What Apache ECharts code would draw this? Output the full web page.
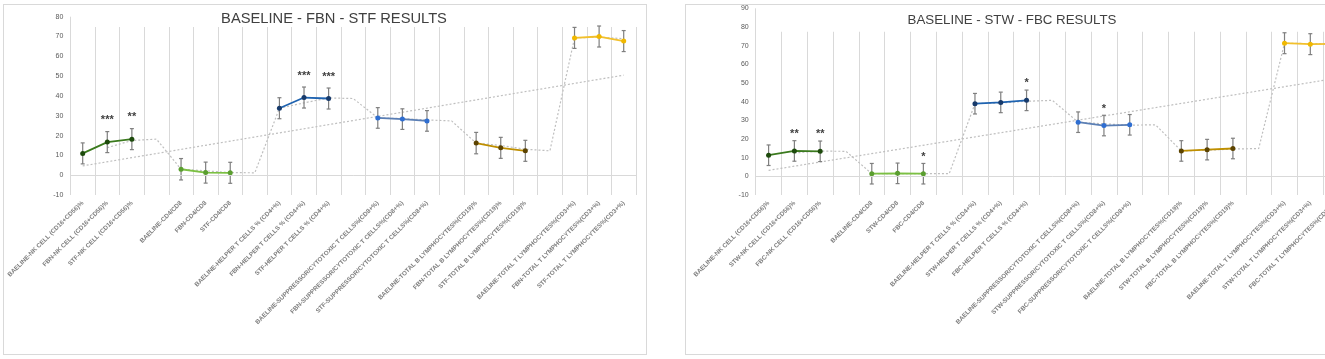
<!DOCTYPE html>
<html>
<head>
<meta charset="utf-8">
<script src="https://cdn.jsdelivr.net/npm/echarts@6/dist/echarts.min.js"></script>
<style>
  html, body { margin: 0; padding: 0; background: #fff; width: 1325px; height: 359px; overflow: hidden; position: relative; }
  .frame { position: absolute; border: 1.5px solid #d9d9d9; box-sizing: border-box; }
  .chart { position: absolute; top: 0; height: 359px; }
</style>
</head>
<body>
<div class="frame" style="left:3px;top:4px;width:644px;height:351px;"></div>
<div class="frame" style="left:685px;top:4px;width:700px;height:351px;"></div>
<div id="chartLeft" class="chart" style="left:0;width:660px;"></div>
<div id="chartRight" class="chart" style="left:660px;width:700px;"></div>
<script>
// categories (gapN = empty slot between groups)
const catsLeft = [
  'BAELINE-NK CELL (CD16+CD56)%', 'FBN-NK CELL (CD16+CD56)%', 'STF-NK CELL (CD16+CD56)%', 'gap1',
  'BAELINE-CD4/CD8', 'FBN-CD4/CD8', 'STF-CD4/CD8', 'gap2',
  'BAELINE-HELPER T CELLS % (CD4+%)', 'FBN-HELPER T CELLS % (CD4+%)', 'STF-HELPER T CELLS % (CD4+%)', 'gap3',
  'BAELINE-SUPPRESSOR/CYTOTOXIC T CELLS%(CD8+%)', 'FBN-SUPPRESSOR/CYTOTOXIC T CELLS%(CD8+%)', 'STF-SUPPRESSOR/CYTOTOXIC T CELLS%(CD8+%)', 'gap4',
  'BAELINE-TOTAL B LYMPHOCYTES%(CD19)%', 'FBN-TOTAL B LYMPHOCYTES%(CD19)%', 'STF-TOTAL B LYMPHOCYTES%(CD19)%', 'gap5',
  'BAELINE-TOTAL T LYMPHOCYTES%(CD3+%)', 'FBN-TOTAL T LYMPHOCYTES%(CD3+%)', 'STF-TOTAL T LYMPHOCYTES%(CD3+%)'
];
const catsRight = [
  'BAELINE-NK CELL (CD16+CD56)%', 'STW-NK CELL (CD16+CD56)%', 'FBC-NK CELL (CD16+CD56)%', 'gap1',
  'BAELINE-CD4/CD8', 'STW-CD4/CD8', 'FBC-CD4/CD8', 'gap2',
  'BAELINE-HELPER T CELLS % (CD4+%)', 'STW-HELPER T CELLS % (CD4+%)', 'FBC-HELPER T CELLS % (CD4+%)', 'gap3',
  'BAELINE-SUPPRESSOR/CYTOTOXIC T CELLS%(CD8+%)', 'STW-SUPPRESSOR/CYTOTOXIC T CELLS%(CD8+%)', 'FBC-SUPPRESSOR/CYTOTOXIC T CELLS%(CD8+%)', 'gap4',
  'BAELINE-TOTAL B LYMPHOCYTES%(CD19)%', 'STW-TOTAL B LYMPHOCYTES%(CD19)%', 'FBC-TOTAL B LYMPHOCYTES%(CD19)%', 'gap5',
  'BAELINE-TOTAL T LYMPHOCYTES%(CD3+%)', 'STW-TOTAL T LYMPHOCYTES%(CD3+%)', 'FBC-TOTAL T LYMPHOCYTES%(CD3+%)'
];

// left panel: BASELINE - FBN - STF
const valuesLeft = [11.0, 16.7, 18.2, null, 3.0, 1.3, 1.2, null, 33.8, 39.2, 38.7, null,
  28.9, 28.3, 27.4, null, 16.2, 13.8, 12.3, null, 69.3, 70.0, 67.7];
const errLeft = [5.3, 5.3, 5.3, null, 5.4, 5.3, 5.3, null, 5.3, 5.3, 5.3, null,
  5.2, 5.2, 5.2, null, 5.4, 5.3, 5.3, null, 5.3, 5.3, 5.3];
const starsLeft = ['', '***', '**', '', '', '', '', '', '', '***', '***', '',
  '', '', '', '', '', '', '', '', '', '', ''];
const movAvgLeft = [null, 13.9, 17.5, 18.2, 3.0, 2.2, 1.3, 1.2, 33.8, 36.5, 39.0, 38.7,
  28.9, 28.6, 27.9, 27.4, 16.2, 15.0, 13.1, 12.3, 69.3, 69.7, 68.9];
const trendLeft = [4.7, 50.5];

// right panel: BASELINE - STW - FBC
const valuesRight = [11.3, 13.6, 13.4, null, 1.4, 1.6, 1.4, null, 38.9, 39.6, 40.7, null,
  29.0, 27.2, 27.6, null, 13.6, 14.3, 14.9, null, 71.3, 70.8, 70.9];
const errRight = [5.5, 5.5, 5.5, null, 5.5, 5.5, 5.5, null, 5.5, 5.5, 5.5, null,
  5.5, 5.5, 5.5, null, 5.5, 5.5, 5.5, null, 5.6, 5.6, 5.6];
const starsRight = ['', '**', '**', '', '', '', '*', '', '', '', '*', '',
  '', '*', '', '', '', '', '', '', '', '', ''];
const movAvgRight = [null, 12.5, 13.5, 13.4, 1.4, 1.5, 1.5, 1.4, 38.9, 39.3, 40.2, 40.7,
  29.0, 28.1, 27.4, 27.6, 13.6, 14.0, 14.6, 14.9, 71.3, 71.1, 70.9];
const trendRight = [3.2, 52.5];

// group colours: [line, marker]
const groupColors = [
  ['#3b7a1e', '#1d4a0c'],
  ['#7cc043', '#5a9e2f'],
  ['#1f63b0', '#173a6b'],
  ['#5b7fb5', '#2f6ed1'],
  ['#bf8f00', '#5c4300'],
  ['#f2c02c', '#f0b800']
];

function buildOption(cfg) {
  const n = cfg.cats.length;
  const series = [];

  // linear trendline
  const trendData = cfg.cats.map(() => null);
  trendData[0] = cfg.trend[0];
  trendData[n - 1] = cfg.trend[1];
  series.push({
    type: 'line', data: trendData, connectNulls: true, symbol: 'none', z: 2,
    lineStyle: { color: '#bfbfbf', width: 1.2, type: [2, 2] },
    markLine: {
      silent: true, symbol: 'none', label: { show: false },
      lineStyle: { color: '#d9d9d9', type: 'solid', width: 1 },
      data: [{ yAxis: 0 }]
    }
  });
  // moving average
  series.push({
    type: 'line', data: cfg.movAvg, symbol: 'none', z: 2,
    lineStyle: { color: '#bfbfbf', width: 1.2, type: [2, 2] }
  });

  // error bars
  series.push({
    type: 'custom', z: 3,
    renderItem: function (params, api) {
      const x = api.value(0), v = api.value(1), e = api.value(2);
      const top = api.coord([x, v + e]);
      const bot = api.coord([x, v - e]);
      const h = 2;
      const st = { stroke: '#7f7f7f', lineWidth: 1.2 };
      return {
        type: 'group', children: [
          { type: 'line', shape: { x1: top[0], y1: top[1], x2: bot[0], y2: bot[1] }, style: st },
          { type: 'line', shape: { x1: top[0] - h, y1: top[1], x2: top[0] + h, y2: top[1] }, style: st },
          { type: 'line', shape: { x1: bot[0] - h, y1: bot[1], x2: bot[0] + h, y2: bot[1] }, style: st }
        ]
      };
    },
    encode: { x: 0, y: 1 },
    data: cfg.values.map((v, i) => v == null ? null : [i, v, cfg.err[i]]).filter(Boolean)
  });

  // one line per group of three
  groupColors.forEach((c, g) => {
    const start = g * 4;
    series.push({
      type: 'line', z: 4,
      data: cfg.values.map((v, i) => (i >= start && i < start + 3) ? v : null),
      symbol: 'circle', symbolSize: 5,
      lineStyle: { color: c[0], width: 1.8 },
      itemStyle: { color: c[1], borderColor: c[1], borderWidth: 0 },
      label: {
        show: true, position: 'top', distance: cfg.starDist,
        color: '#404040', fontSize: 11, fontWeight: 'bold', fontFamily: 'Liberation Sans',
        formatter: p => cfg.stars[p.dataIndex] || ''
      }
    });
  });

  const g = cfg.grid;
  return {
    animation: false,
    grid: g,
    graphic: [{
      // white band hiding the top of the vertical gridlines (title area)
      type: 'rect', z: 1, silent: true,
      shape: { x: g.left + 1, y: g.top - 1, width: cfg.width - g.left - g.right + 2, height: cfg.gridStart - g.top + 1 },
      style: { fill: '#ffffff' }
    }, {
      type: 'text', x: cfg.titleX, y: cfg.titleY, z: 5,
      style: {
        text: cfg.title, fill: '#404040', fontSize: cfg.titleSize,
        fontFamily: 'Liberation Sans', textAlign: 'center', textVerticalAlign: 'middle'
      }
    }],
    xAxis: {
      type: 'category', data: cfg.cats, boundaryGap: true,
      axisLine: { show: false }, axisTick: { show: false },
      splitLine: { show: true, interval: 0, lineStyle: { color: '#d9d9d9', width: 1 } },
      axisLabel: {
        interval: 0, rotate: 45, margin: 7,
        fontSize: 6.3, fontWeight: 'bold', color: '#7f7f7f', fontFamily: 'Liberation Sans',
        formatter: v => v.startsWith('gap') ? '' : v
      }
    },
    yAxis: {
      type: 'value', min: -10, max: cfg.yMax, interval: 10,
      axisLine: { show: false }, axisTick: { show: false },
      splitLine: { show: false },
      axisLabel: { fontSize: 7, color: '#595959', margin: 7, fontFamily: 'Liberation Sans' }
    },
    series: series
  };
}

const leftChart = echarts.init(document.getElementById('chartLeft'));
leftChart.setOption(buildOption({
  cats: catsLeft, values: valuesLeft, err: errLeft, stars: starsLeft,
  movAvg: movAvgLeft, trend: trendLeft, yMax: 80, starDist: 14,
  title: 'BASELINE - FBN - STF RESULTS', titleX: 334, titleY: 19, titleSize: 14.7,
  width: 660, gridStart: 27,
  grid: { left: 70.4, right: 24, top: 16.7, bottom: 164 }
}));

const rightChart = echarts.init(document.getElementById('chartRight'));
rightChart.setOption(buildOption({
  cats: catsRight, values: valuesRight, err: errRight, stars: starsRight,
  movAvg: movAvgRight, trend: trendRight, yMax: 90, starDist: 9,
  title: 'BASELINE - STW - FBC RESULTS', titleX: 352, titleY: 20, titleSize: 13.3,
  width: 700, gridStart: 31.7,
  grid: { left: 95.7, right: 11, top: 8.3, bottom: 164 }
}));
</script>
</body>
</html>
